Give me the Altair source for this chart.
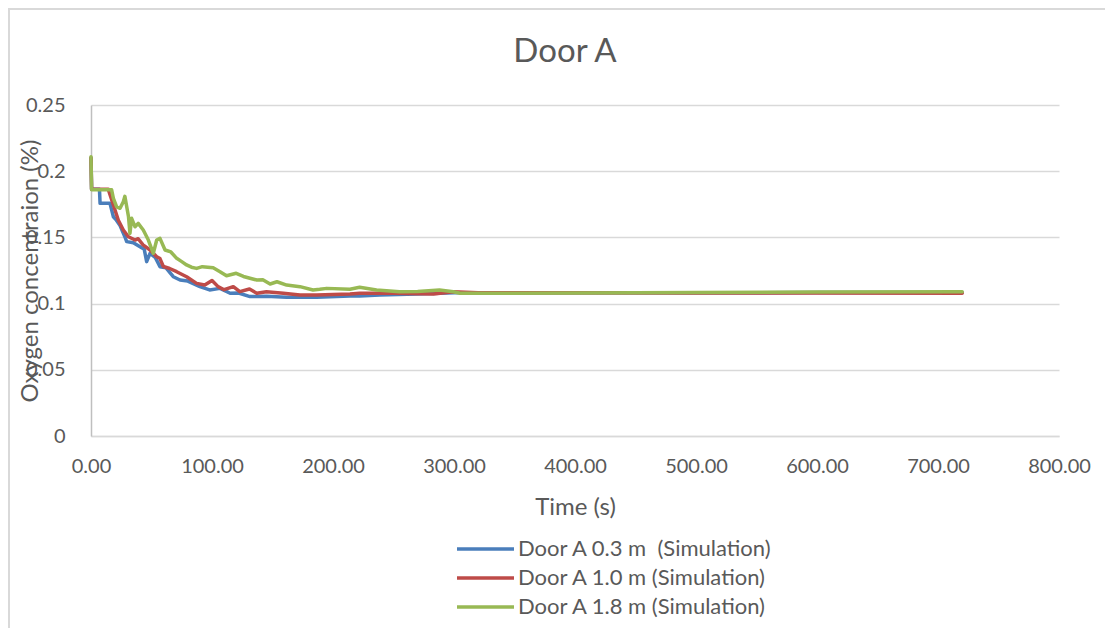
import altair as alt
import pandas as pd

series_names = ["Door A 0.3 m \u00a0(Simulation)", "Door A 1.0 m (Simulation)", "Door A 1.8 m (Simulation)"]
series_colors = ["#4A7EBB", "#BE4B48", "#98B954"]

t_03 = [0, 0.5, 7, 7.5, 15.7, 18.5, 21, 24, 28, 29.5, 35, 40.5, 44, 46, 48.8, 53, 57, 62, 68, 73.6,
        80, 90, 98, 106.6, 115, 122, 131.4, 145, 161.7, 186.5, 214, 222, 238.6, 269, 300, 400, 500, 600, 720]
v_03 = [0.21, 0.1863, 0.1863, 0.1757, 0.1757, 0.1656, 0.163, 0.159, 0.1505, 0.1468, 0.146, 0.143, 0.141,
        0.1317, 0.138, 0.135, 0.1279, 0.127, 0.1203, 0.1178, 0.117, 0.1128, 0.1103, 0.1115, 0.1078, 0.108,
        0.1053, 0.1055, 0.1048, 0.1048, 0.1057, 0.1057, 0.1065, 0.1073, 0.1082, 0.1082, 0.1082, 0.1083, 0.1084]

t_10 = [0, 0.5, 14.3, 18.5, 22.6, 26.7, 30.9, 36.4, 39, 43, 48.8, 54.3, 57, 59.8, 65, 70.8, 79, 87.3, 94,
        100, 105, 110, 117.6, 123, 131, 137, 145, 159, 172.7, 186.5, 200, 214, 222, 250, 283, 299.5, 320,
        400, 500, 600, 720]
v_10 = [0.21, 0.1863, 0.1863, 0.1745, 0.163, 0.1556, 0.1505, 0.148, 0.149, 0.1443, 0.1405, 0.1354, 0.134,
        0.128, 0.1265, 0.1241, 0.1203, 0.1153, 0.114, 0.1175, 0.1128, 0.1105, 0.1128, 0.109, 0.111, 0.1078,
        0.109, 0.1078, 0.1065, 0.1065, 0.1068, 0.1073, 0.1078, 0.1078, 0.1073, 0.109, 0.1082, 0.1082, 0.108,
        0.108, 0.1078]

t_18 = [0, 0.5, 17, 18.5, 21.2, 24, 26.7, 28, 31, 32.2, 33.6, 36.4, 39, 43.2, 47.4, 51.5, 54.3, 57, 61.2,
        66, 70.8, 75, 79, 83, 87.3, 92, 101, 106.6, 112, 120, 126, 137, 142, 148, 153.7, 161.7, 172.7,
        183.5, 189, 195, 214, 222, 236, 255, 270, 288, 299.5, 305, 400, 500, 600, 720]
v_18 = [0.211, 0.186, 0.186, 0.1795, 0.173, 0.172, 0.177, 0.181, 0.1656, 0.153, 0.1644, 0.158, 0.1606,
        0.1556, 0.148, 0.138, 0.148, 0.1493, 0.1405, 0.139, 0.1342, 0.1317, 0.1292, 0.1275, 0.1266, 0.1279,
        0.127, 0.1241, 0.121, 0.1229, 0.1205, 0.1178, 0.118, 0.1148, 0.1165, 0.114, 0.1128, 0.1103, 0.1108,
        0.1115, 0.1108, 0.1123, 0.1103, 0.109, 0.1092, 0.1103, 0.109, 0.1078, 0.108, 0.1083, 0.1087, 0.109]

x_ticks = [0, 100, 200, 300, 400, 500, 600, 700, 800]
y_ticks = [0, 0.05, 0.1, 0.15, 0.2, 0.25]

rows = []
for name, ts, vs in zip(series_names, [t_03, t_10, t_18], [v_03, v_10, v_18]):
    for i, (t, v) in enumerate(zip(ts, vs)):
        rows.append({"series": name, "time": t, "value": v, "order": i})
df = pd.DataFrame(rows)

FONT = "Lato"
TXT = "#595959"

lines = alt.Chart(df).mark_line(strokeWidth=3.5, strokeCap="round", strokeJoin="round").encode(
    x=alt.X("time:Q", scale=alt.Scale(domain=[0, 800], nice=False),
            axis=alt.Axis(values=x_ticks, format=".2f", grid=False, ticks=False, domain=True,
                          domainColor="#d9d9d9", domainWidth=1.5, labelPadding=20, labelFontSize=20,
                          labelColor=TXT, labelFont=FONT, labelFlush=False,
                          title="Time (s)", titleFontSize=24,
                          titleColor=TXT, titleFont=FONT, titleFontWeight="normal", titleY=71,
                          titleBaseline="middle")),
    y=alt.Y("value:Q", scale=alt.Scale(domain=[0, 0.25], nice=False),
            axis=alt.Axis(values=y_ticks, format=".2~f", grid=True, gridColor="#d9d9d9", gridWidth=1.5,
                          domain=True, domainColor="#bfbfbf", domainWidth=1.5, ticks=False,
                          labelPadding=26, labelFontSize=20, labelColor=TXT, labelFont=FONT,
                          labelFlush=False,
                          title="Oxygen concentraion (%)", titleFontSize=24, titleColor=TXT,
                          titleFont=FONT, titleFontWeight="normal", titleX=-61, titleY=165.5,
                          titleBaseline="middle")),
    color=alt.Color("series:N", scale=alt.Scale(domain=series_names, range=series_colors),
                    legend=alt.Legend(title=None, orient="none", legendX=364, legendY=432,
                                      symbolType="stroke", symbolSize=3249, symbolStrokeWidth=3.5,
                                      labelFontSize=22, labelColor=TXT, labelFont=FONT, labelLimit=500,
                                      clipHeight=24, rowPadding=5, labelOffset=2)),
    order="order:Q",
)

frame_top = alt.Chart(df).mark_rule(color="#d9d9d9", strokeWidth=1.5).encode(
    x=alt.value(-83), x2=alt.value(1014), y=alt.value(-96))
frame_left = alt.Chart(df).mark_rule(color="#d9d9d9", strokeWidth=1.5).encode(
    x=alt.value(-82), y=alt.value(-97), y2=alt.value(531))

chart = alt.layer(frame_top, frame_left, lines).properties(
    width=968, height=331,
    title=alt.TitleParams("Door A", fontSize=33, color=TXT, font=FONT, fontWeight="normal",
                          frame="group", baseline="alphabetic", offset=-88, dx=-10),
    autosize=alt.AutoSizeParams(type="none"),
    padding={"left": 83, "top": 97, "right": 46, "bottom": 192},
).configure_view(stroke=None)

chart.save("out.html", embed_options={"renderer": "svg", "actions": False})
